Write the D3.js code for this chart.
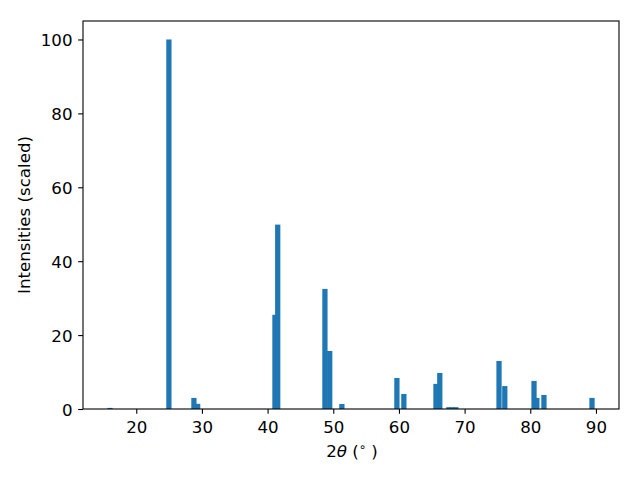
<!DOCTYPE html>
<html>
<head>
<meta charset="utf-8">
<script src="https://cdn.jsdelivr.net/npm/d3@7"></script>
<style>
  html, body { margin: 0; padding: 0; background: #fff; }
  svg text { font-family: "DejaVu Sans", sans-serif; }
</style>
</head>
<body>
<svg id="chart" width="640" height="480"></svg>
<script>
// Data
const twoTheta = [16.0, 24.97, 28.78, 29.35, 41.12, 41.54, 48.73, 49.46, 51.31, 59.69, 60.75, 65.64, 66.22, 67.6, 68.12, 68.66, 75.24, 76.12, 80.57, 81.0, 82.08, 89.4];
const intensity = [0.3, 100, 3.0, 1.4, 25.5, 49.9, 32.5, 15.7, 1.35, 8.4, 4.07, 6.8, 9.76, 0.5, 0.5, 0.5, 13.0, 6.2, 7.6, 3.0, 3.8, 3.0];
const xTicks = [20, 30, 40, 50, 60, 70, 80, 90];
const yTicks = [0, 20, 40, 60, 80, 100];
const barWidth = 0.8;

(function () {
const svg = d3.select("#chart");
const mLeft = 83, mTop = 21, mRight = 619, mBottom = 409;
const fs = 16.67;

// matplotlib-style 5% margins
const lo = d3.min(twoTheta) - barWidth / 2, hi = d3.max(twoTheta) + barWidth / 2;
const pad = (hi - lo) * 0.05;
const x = d3.scaleLinear().domain([lo - pad, hi + pad]).range([mLeft, mRight]);
const y = d3.scaleLinear().domain([0, d3.max(intensity) * 1.05]).range([mBottom, mTop]);

const data = twoTheta.map((t, i) => ({ t, v: intensity[i] }));

svg.append("g").selectAll("rect").data(data).enter().append("rect")
  .attr("x", d => x(d.t - barWidth / 2))
  .attr("width", d => x(d.t + barWidth / 2) - x(d.t - barWidth / 2))
  .attr("y", d => y(d.v))
  .attr("height", d => y(0) - y(d.v))
  .attr("fill", "#1f77b4");

// Axes
const xAxis = d3.axisBottom(x).tickValues(xTicks).tickSize(4.86).tickPadding(4.86).tickFormat(d3.format("d"));
const yAxis = d3.axisLeft(y).tickValues(yTicks).tickSize(4.86).tickPadding(4.86).tickFormat(d3.format("d"));

const gx = svg.append("g").attr("transform", `translate(0,${mBottom})`).call(xAxis);
const gy = svg.append("g").attr("transform", `translate(${mLeft},0)`).call(yAxis);
[gx, gy].forEach(g => {
  g.attr("font-size", fs).attr("font-family", "DejaVu Sans");
  g.select(".domain").remove();
  g.selectAll("line").attr("stroke", "#000").attr("stroke-width", 1.1);
  g.selectAll("text").attr("font-size", fs).attr("fill", "#000");
});
gx.selectAll("text").attr("y", 24).attr("dy", 0);
gy.selectAll("text").attr("x", -10.5).attr("dy", "0.38em");

// Frame
svg.append("rect").attr("x", mLeft).attr("y", mTop)
  .attr("width", mRight - mLeft).attr("height", mBottom - mTop)
  .attr("fill", "none").attr("stroke", "#000").attr("stroke-width", 1.1);

// X label: 2θ (°)
const xl = svg.append("text").attr("x", (mLeft + mRight) / 2 + 1).attr("y", 457)
  .attr("text-anchor", "middle").attr("font-size", fs).attr("fill", "#000");
xl.append("tspan").text("2");
xl.append("tspan").attr("font-style", "italic").text("θ");
xl.append("tspan").text(" (");
xl.append("tspan").attr("font-size", fs * 0.7).attr("dy", -6).text("∘");
xl.append("tspan").attr("dy", 6).text(" )");

// Y label
svg.append("text")
  .attr("transform", `translate(29.5,${(mTop + mBottom) / 2}) rotate(-90)`)
  .attr("text-anchor", "middle").attr("font-size", fs).attr("fill", "#000")
  .text("Intensities (scaled)");
})();
</script>
</body>
</html>
